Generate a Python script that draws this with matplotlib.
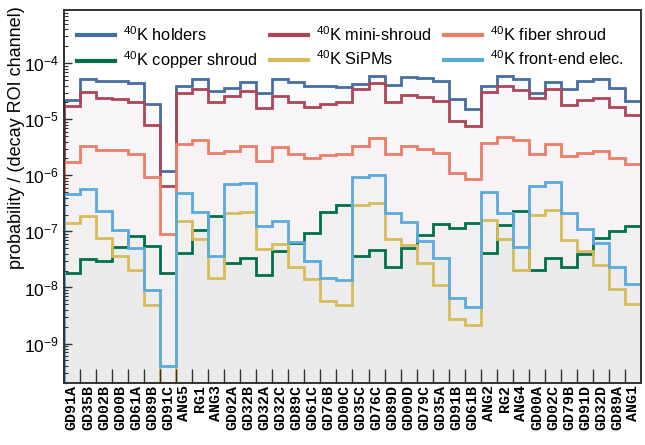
import numpy as np
import matplotlib
matplotlib.use("Agg")
import matplotlib.pyplot as plt
from matplotlib.lines import Line2D
from matplotlib.ticker import LogLocator, FixedLocator, NullFormatter

plt.rcParams['font.family'] = ['Liberation Sans', 'DejaVu Sans']
plt.rcParams['mathtext.fontset'] = 'custom'
plt.rcParams['mathtext.rm'] = 'Liberation Sans'
plt.rcParams['mathtext.it'] = 'Liberation Sans:italic'
plt.rcParams['mathtext.bf'] = 'Liberation Sans:bold'

channels = ["GD91A", "GD35B", "GD02B", "GD00B", "GD61A", "GD89B", "GD91C", "ANG5", "RG1",
            "ANG3", "GD02A", "GD32B", "GD32A", "GD32C", "GD89C", "GD61C", "GD76B", "GD00C",
            "GD35C", "GD76C", "GD89D", "GD00D", "GD79C", "GD35A", "GD91B", "GD61B", "ANG2",
            "RG2", "ANG4", "GD00A", "GD02C", "GD79B", "GD91D", "GD32D", "GD89A", "ANG1"]

yticks = [1e-9, 1e-8, 1e-7, 1e-6, 1e-5, 1e-4]
yticklabels = ["$10^{-9}$", "$10^{-8}$", "$10^{-7}$", "$10^{-6}$", "$10^{-5}$", "$10^{-4}$"]

holders = [2.2e-5, 5.2e-5, 4.9e-5, 4.9e-5, 4.5e-5, 1.86e-5, 1.2e-6, 4.0e-5, 5.2e-5,
           3.2e-5, 3.6e-5, 4.7e-5, 3.0e-5, 5.2e-5, 4.7e-5, 3.9e-5, 4.0e-5, 3.8e-5,
           4.3e-5, 6.0e-5, 4.1e-5, 5.6e-5, 5.4e-5, 4.9e-5, 2.3e-5, 1.53e-5, 3.9e-5,
           6.0e-5, 5.2e-5, 3.0e-5, 4.7e-5, 3.4e-5, 4.8e-5, 5.2e-5, 3.6e-5, 2.1e-5]

mini_shroud = [1.7e-5, 3.1e-5, 2.4e-5, 2.3e-5, 2.0e-5, 7.9e-6, 6.5e-7, 3.0e-5, 3.4e-5,
               2.0e-5, 2.6e-5, 3.2e-5, 1.6e-5, 2.6e-5, 2.0e-5, 1.63e-5, 1.9e-5, 2.0e-5,
               3.5e-5, 4.4e-5, 2.0e-5, 2.7e-5, 2.5e-5, 2.1e-5, 9.4e-6, 7.6e-6, 3.1e-5,
               3.9e-5, 3.3e-5, 2.4e-5, 3.5e-5, 1.8e-5, 2.2e-5, 2.4e-5, 1.63e-5, 1.2e-5]

fiber_shroud = [1.7e-6, 3.3e-6, 2.8e-6, 2.8e-6, 2.45e-6, 9.2e-7, 8.9e-8, 3.6e-6, 4.2e-6,
                2.5e-6, 2.7e-6, 3.3e-6, 1.8e-6, 3.2e-6, 2.37e-6, 2.0e-6, 2.3e-6, 2.37e-6,
                3.4e-6, 4.6e-6, 2.4e-6, 3.3e-6, 2.9e-6, 2.5e-6, 1.1e-6, 8.5e-7, 3.7e-6,
                4.8e-6, 4.2e-6, 2.37e-6, 3.6e-6, 2.2e-6, 2.5e-6, 2.7e-6, 2.0e-6, 1.6e-6]

copper_shroud = [1.78e-8, 3.16e-8, 3.0e-8, 5.3e-8, 8.2e-8, 5.5e-8, 1.8e-8, 4.1e-8, 1.05e-7,
                 1.86e-7, 2.7e-8, 3.4e-8, 1.7e-8, 4.5e-8, 6.3e-8, 9.2e-8, 2.23e-7, 2.95e-7,
                 3.6e-8, 4.6e-8, 2.35e-8, 5.1e-8, 8.6e-8, 1.33e-7, 1.17e-7, 1.43e-7, 4.1e-8,
                 1.3e-7, 2.3e-7, 2.04e-8, 3.4e-8, 2.3e-8, 4.0e-8, 7.5e-8, 1.0e-7, 1.25e-7]

sipms = [1.43e-7, 1.86e-7, 7.7e-8, 3.7e-8, 2.04e-8, 4.8e-9, 2.0e-10, 1.55e-7, 7.2e-8,
         1.48e-8, 2.1e-7, 2.23e-7, 4.8e-8, 5.9e-8, 2.35e-8, 1.41e-8, 5.7e-9, 4.8e-9,
         2.95e-7, 3.15e-7, 7.2e-8, 5.7e-8, 2.75e-8, 1.12e-8, 2.7e-9, 2.14e-9, 1.6e-7,
         7.2e-8, 2.04e-8, 1.95e-7, 2.4e-7, 7.0e-8, 4.5e-8, 2.5e-8, 9.5e-9, 5.1e-9]

front_end = [4.6e-7, 5.7e-7, 2.3e-7, 1.08e-7, 5.0e-8, 9.0e-9, 4.0e-10, 4.8e-7, 2.2e-7,
             3.7e-8, 6.9e-7, 7.4e-7, 1.25e-7, 1.55e-7, 6.5e-8, 3.0e-8, 1.45e-8, 1.35e-8,
             9.4e-7, 1.0e-6, 2.1e-7, 1.5e-7, 6.8e-8, 3.4e-8, 6.5e-9, 4.4e-9, 5.0e-7,
             2.1e-7, 5.3e-8, 6.5e-7, 7.7e-7, 2.1e-7, 1.1e-7, 6.3e-8, 2.35e-8, 1.17e-8]

series = [
    ("$^{40}$K holders", holders, "#466ea0"),
    ("$^{40}$K mini-shroud", mini_shroud, "#ad4658"),
    ("$^{40}$K fiber shroud", fiber_shroud, "#eb7d69"),
    ("$^{40}$K copper shroud", copper_shroud, "#00704a"),
    ("$^{40}$K SiPMs", sipms, "#d7bc5a"),
    ("$^{40}$K front-end elec.", front_end, "#5aaadc"),
]

fig = plt.figure(figsize=(6.45, 4.45), dpi=100)
ax = fig.add_axes([0.099, 0.14, 0.895, 0.8375])

n = len(channels)
edges = np.arange(n + 1)
base = 1e-12
handles = {}
for label, vals, col in series:
    ax.stairs(vals, edges, baseline=base, fill=True, color=col, alpha=0.025, lw=0)
for label, vals, col in series:
    ax.stairs(vals, edges, baseline=base, fill=False, color=col, lw=2.0)
    handles[label] = Line2D([], [], color=col, lw=3.0)

ax.set_yscale('log')
ax.set_ylim(2.0e-10, 8.9e-4)
ax.set_xlim(0, n)

ax.set_xticks(edges[1:-1])
ax.set_xticklabels([])
ax.set_xticks(edges[:-1] + 0.5, channels, minor=True)
ax.tick_params(axis='x', which='major', direction='in', length=10, width=1.0, color='#333333')
ax.tick_params(axis='x', which='minor', length=0, pad=2, labelrotation=90)
for t in ax.get_xticklabels(minor=True):
    t.set_fontfamily('Liberation Mono')
    t.set_fontweight('bold')
    t.set_fontsize(10.8)

ax.yaxis.set_major_locator(FixedLocator(yticks))
ax.set_yticklabels(yticklabels)
ax.yaxis.set_minor_locator(LogLocator(base=10, subs=np.arange(2, 10), numticks=20))
ax.yaxis.set_minor_formatter(NullFormatter())
ax.tick_params(axis='y', which='major', direction='in', length=6, width=1.0, labelsize=12.5, color='#333333')
ax.tick_params(axis='y', which='minor', direction='in', length=3, width=0.8, color='#333333')

for s in ax.spines.values():
    s.set_color('#333333')
    s.set_linewidth(1.4)

fig.text(17 / 645, 1 - 6 / 445, "probability / (decay ROI channel)", rotation=90,
         ha='center', va='top', fontsize=13)

order = ["$^{40}$K holders", "$^{40}$K copper shroud", "$^{40}$K mini-shroud",
         "$^{40}$K SiPMs", "$^{40}$K fiber shroud", "$^{40}$K front-end elec."]
ax.legend([handles[k] for k in order], order, ncol=3, loc='upper left',
          bbox_to_anchor=(0.0, 0.995), frameon=False, fontsize=11.8,
          handlelength=2.3, handletextpad=0.5, columnspacing=0.8, labelspacing=0.36,
          borderaxespad=0.4)

fig.savefig("out.png", dpi=100)
